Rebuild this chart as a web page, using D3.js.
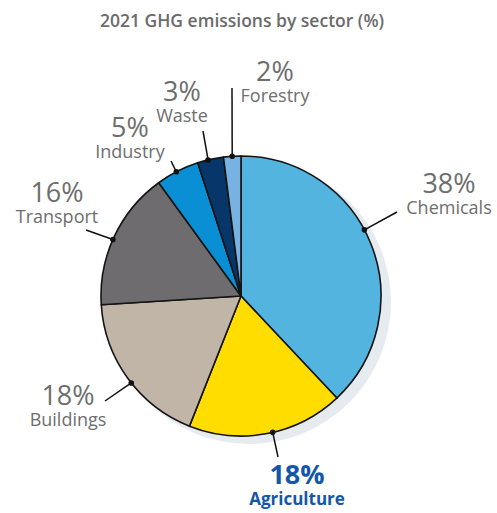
<!DOCTYPE html>
<html>
<head>
<meta charset="utf-8">
<script src="https://cdn.jsdelivr.net/npm/d3@7"></script>
<style>
  html, body { margin: 0; padding: 0; background: #fff; }
  svg { display: block; font-family: "Open Sans", "Noto Sans", sans-serif; }
</style>
</head>
<body>
<svg id="chart" width="497" height="513"></svg>
<script>
// Sector shares of 2021 greenhouse-gas emissions, clockwise from 12 o'clock
const sectors = ["Chemicals", "Agriculture", "Buildings", "Transport", "Industry", "Waste", "Forestry"];
const shares  = [38, 18, 18, 16, 5, 3, 2];
const colors  = ["#53b4df", "#ffdd00", "#c1b5a7", "#6e6c6f", "#0b8fd4", "#06366a", "#77b2e3"];
const title   = "2021 GHG emissions by sector (%)";
const highlighted = "Agriculture";

// Label placement: dot angle shift from slice middle (deg), leader end, text anchor
const labelLayout = {
  Chemicals:   { shift: -6.6, end: [397, 212], text: [449, 193] },
  Agriculture: { shift: -2.3, end: [278, 457], text: [297, 484] },
  Buildings:   { shift: -2.4, end: [105, 401], text: [68, 405] },
  Transport:   { shift: -1.4, end: [86, 230],  text: [57, 202] },
  Industry:    { shift: -0.5, end: [171, 161], text: [130, 137] },
  Waste:       { shift: -1.0, end: [203, 131], text: [182, 101] },
  Forestry:    { shift: 0,    end: [232, 88],  text: [275, 81] }
};

const svg = d3.select("#chart");
const cx = 241, cy = 296, r = 140;

svg.append("text")
  .attr("x", 242).attr("y", 27)
  .attr("text-anchor", "middle")
  .attr("font-size", 17.5).attr("font-weight", 600)
  .attr("fill", "#6b6b6b")
  .text(title);

const data = sectors.map((s, i) => ({ sector: s, value: shares[i], color: colors[i] }));
const pie = d3.pie().value(d => d.value).sort(null);
const arcs = pie(data);
const arc = d3.arc().innerRadius(0).outerRadius(r);

const g = svg.append("g").attr("transform", `translate(${cx},${cy})`);

// soft backdrop disc, offset down-right
g.append("circle")
  .attr("cx", 8).attr("cy", 6).attr("r", 142)
  .attr("fill", "#e6ebf0");

g.selectAll("path.slice")
  .data(arcs)
  .join("path")
  .attr("class", "slice")
  .attr("d", arc)
  .attr("fill", d => d.data.color)
  .attr("stroke", "#141414")
  .attr("stroke-width", 1.6)
  .attr("stroke-linejoin", "round");

// leaders and labels
arcs.forEach(a => {
  const lay = labelLayout[a.data.sector];
  const ang = (a.startAngle + a.endAngle) / 2 + lay.shift * Math.PI / 180;
  const px = cx + r * Math.sin(ang), py = cy - r * Math.cos(ang);
  svg.append("line")
    .attr("x1", px).attr("y1", py)
    .attr("x2", lay.end[0]).attr("y2", lay.end[1])
    .attr("stroke", "#111").attr("stroke-width", 1.5);
  svg.append("circle")
    .attr("cx", px).attr("cy", py).attr("r", 2.8)
    .attr("fill", "#111");

  const hi = a.data.sector === highlighted;
  const fill = hi ? "#1357a8" : "#6e6e6e";
  const weight = hi ? 700 : 400;
  svg.append("text")
    .attr("x", lay.text[0]).attr("y", lay.text[1])
    .attr("text-anchor", "middle")
    .attr("fill", fill).attr("font-weight", weight)
    .attr("font-size", 27)
    .text(a.data.value + "%");
  svg.append("text")
    .attr("x", lay.text[0]).attr("y", lay.text[1] + 21)
    .attr("text-anchor", "middle")
    .attr("fill", fill).attr("font-weight", weight)
    .attr("font-size", hi ? 17 : 18)
    .text(a.data.sector);
});
</script>
</body>
</html>
